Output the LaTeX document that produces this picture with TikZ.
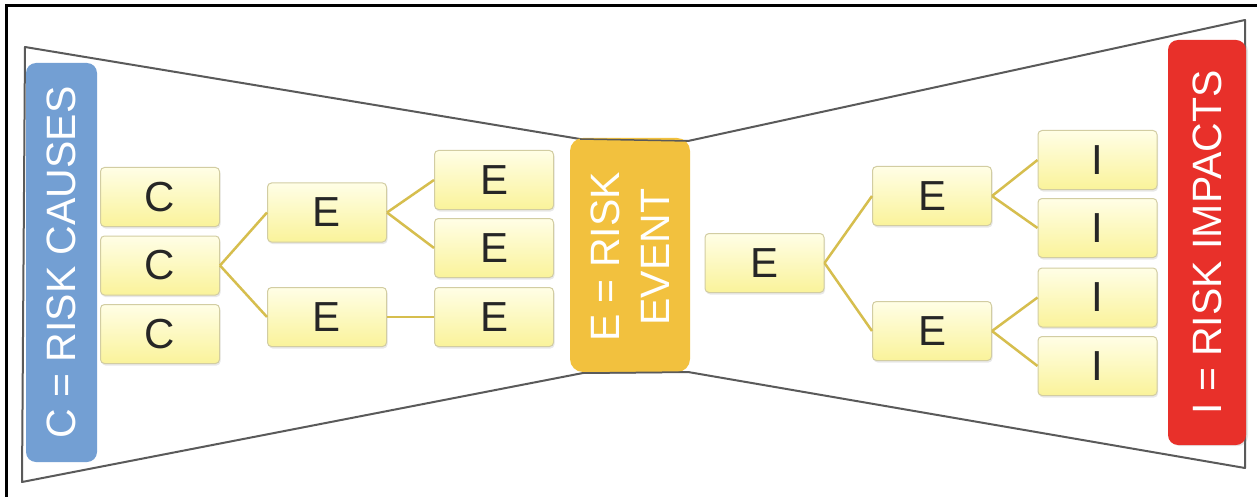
\documentclass[tikz,border=0pt]{standalone}
\usepackage{fontspec}
\setmainfont{Liberation Sans}
\usetikzlibrary{shadows}
\definecolor{boxtop}{HTML}{FFFEE6}
\definecolor{boxbottom}{HTML}{FAF39A}
\definecolor{boxline}{HTML}{D2CDA2}
\definecolor{linkcol}{HTML}{D6BE4E}
\definecolor{causeblue}{HTML}{739FD3}
\definecolor{eventgold}{HTML}{F2C13E}
\definecolor{impactred}{HTML}{E8302A}
\definecolor{tieline}{HTML}{5A5A5A}
\tikzset{
  item/.style={rectangle, rounded corners=4pt, draw=boxline, line width=1pt,
    top color=boxtop, bottom color=boxbottom, minimum width=119pt,
    minimum height=59pt, inner sep=0pt, text=black!85,
    font=\fontsize{42}{46}\selectfont,
    drop shadow={opacity=0.18, shadow xshift=1pt, shadow yshift=-2pt}},
  band/.style={rectangle, rounded corners=10pt, inner sep=0pt, draw=none},
  bandtext/.style={rotate=90, text=white, align=center, font=\fontsize{41}{50}\selectfont},
  link/.style={draw=linkcol, line width=2.5pt},
  tie/.style={draw=tieline, line width=2pt, line join=round},
}
\begin{document}
\begin{tikzpicture}[x=1pt, y=-1pt]
\useasboundingbox (0,0) rectangle (1257,497);
\fill[white] (0,0) rectangle (1257,497);
% outer frame (top and left edges)
\draw[black, line width=3pt] (6,497) -- (6,5.5) -- (1257,5.5);

% bow-tie outline
\coordinate (tl) at (25,47);
\coordinate (ctl) at (580,139);
\coordinate (ctr) at (688,141);
\coordinate (tr) at (1245,20);
\coordinate (br) at (1245,468);
\coordinate (cbr) at (688,372);
\coordinate (cbl) at (583,373);
\coordinate (bl) at (22,482);
\draw[tie] (tl) -- (ctl) -- (ctr) -- (tr) -- (br) -- (cbr) -- (cbl) -- (bl) -- cycle;

% side bands
\node[band, fill=causeblue, minimum width=71pt, minimum height=399pt] (causes) at (61.5,262.5) {};
\node[bandtext] (causestxt) at (causes.center) {C = RISK CAUSES};
\node[band, fill=impactred, minimum width=78pt, minimum height=405pt,
  drop shadow={opacity=0.2, shadow xshift=2pt, shadow yshift=-1pt}] (impacts) at (1207,242.5) {};
\node[bandtext] (impactstxt) at (impacts.center) {I = RISK IMPACTS};

% central event
\node[band, fill=eventgold, rounded corners=13pt, minimum width=120pt, minimum height=234pt] (event) at (630,255) {};
\node[bandtext] (eventtxt) at (630,257) {E = RISK\\EVENT};
\draw[tie, line width=1.5pt] (ctl) -- (ctr);
\draw[tie, line width=1.5pt] (cbl) -- (cbr);

% cause side
\node[item] (c1) at (160,197) {C};
\node[item] (c2) at (160,265.5) {C};
\node[item] (c3) at (160,334) {C};
\node[item] (e1) at (327,212.5) {E};
\node[item] (e2) at (327,317) {E};
\node[item] (e3) at (494,180) {E};
\node[item] (e4) at (494,248) {E};
\node[item] (e5) at (494,317) {E};

% impact side
\node[item] (r0) at (764.5,263) {E};
\node[item] (r1) at (932,196) {E};
\node[item] (r2) at (932,331) {E};
\node[item] (i1) at (1097.5,160) {I};
\node[item] (i2) at (1097.5,228) {I};
\node[item] (i3) at (1097.5,297.5) {I};
\node[item] (i4) at (1097.5,366) {I};

% links
\draw[link] (c2.east) -- (e1.west);
\draw[link] (c2.east) -- (e2.west);
\draw[link] (e1.east) -- (e3.west);
\draw[link] (e1.east) -- (e4.west);
\draw[link] (e2.east) -- (e5.west);
\draw[link] (r0.east) -- (r1.west);
\draw[link] (r0.east) -- (r2.west);
\draw[link] (r1.east) -- (i1.west);
\draw[link] (r1.east) -- (i2.west);
\draw[link] (r2.east) -- (i3.west);
\draw[link] (r2.east) -- (i4.west);
\end{tikzpicture}
\end{document}
